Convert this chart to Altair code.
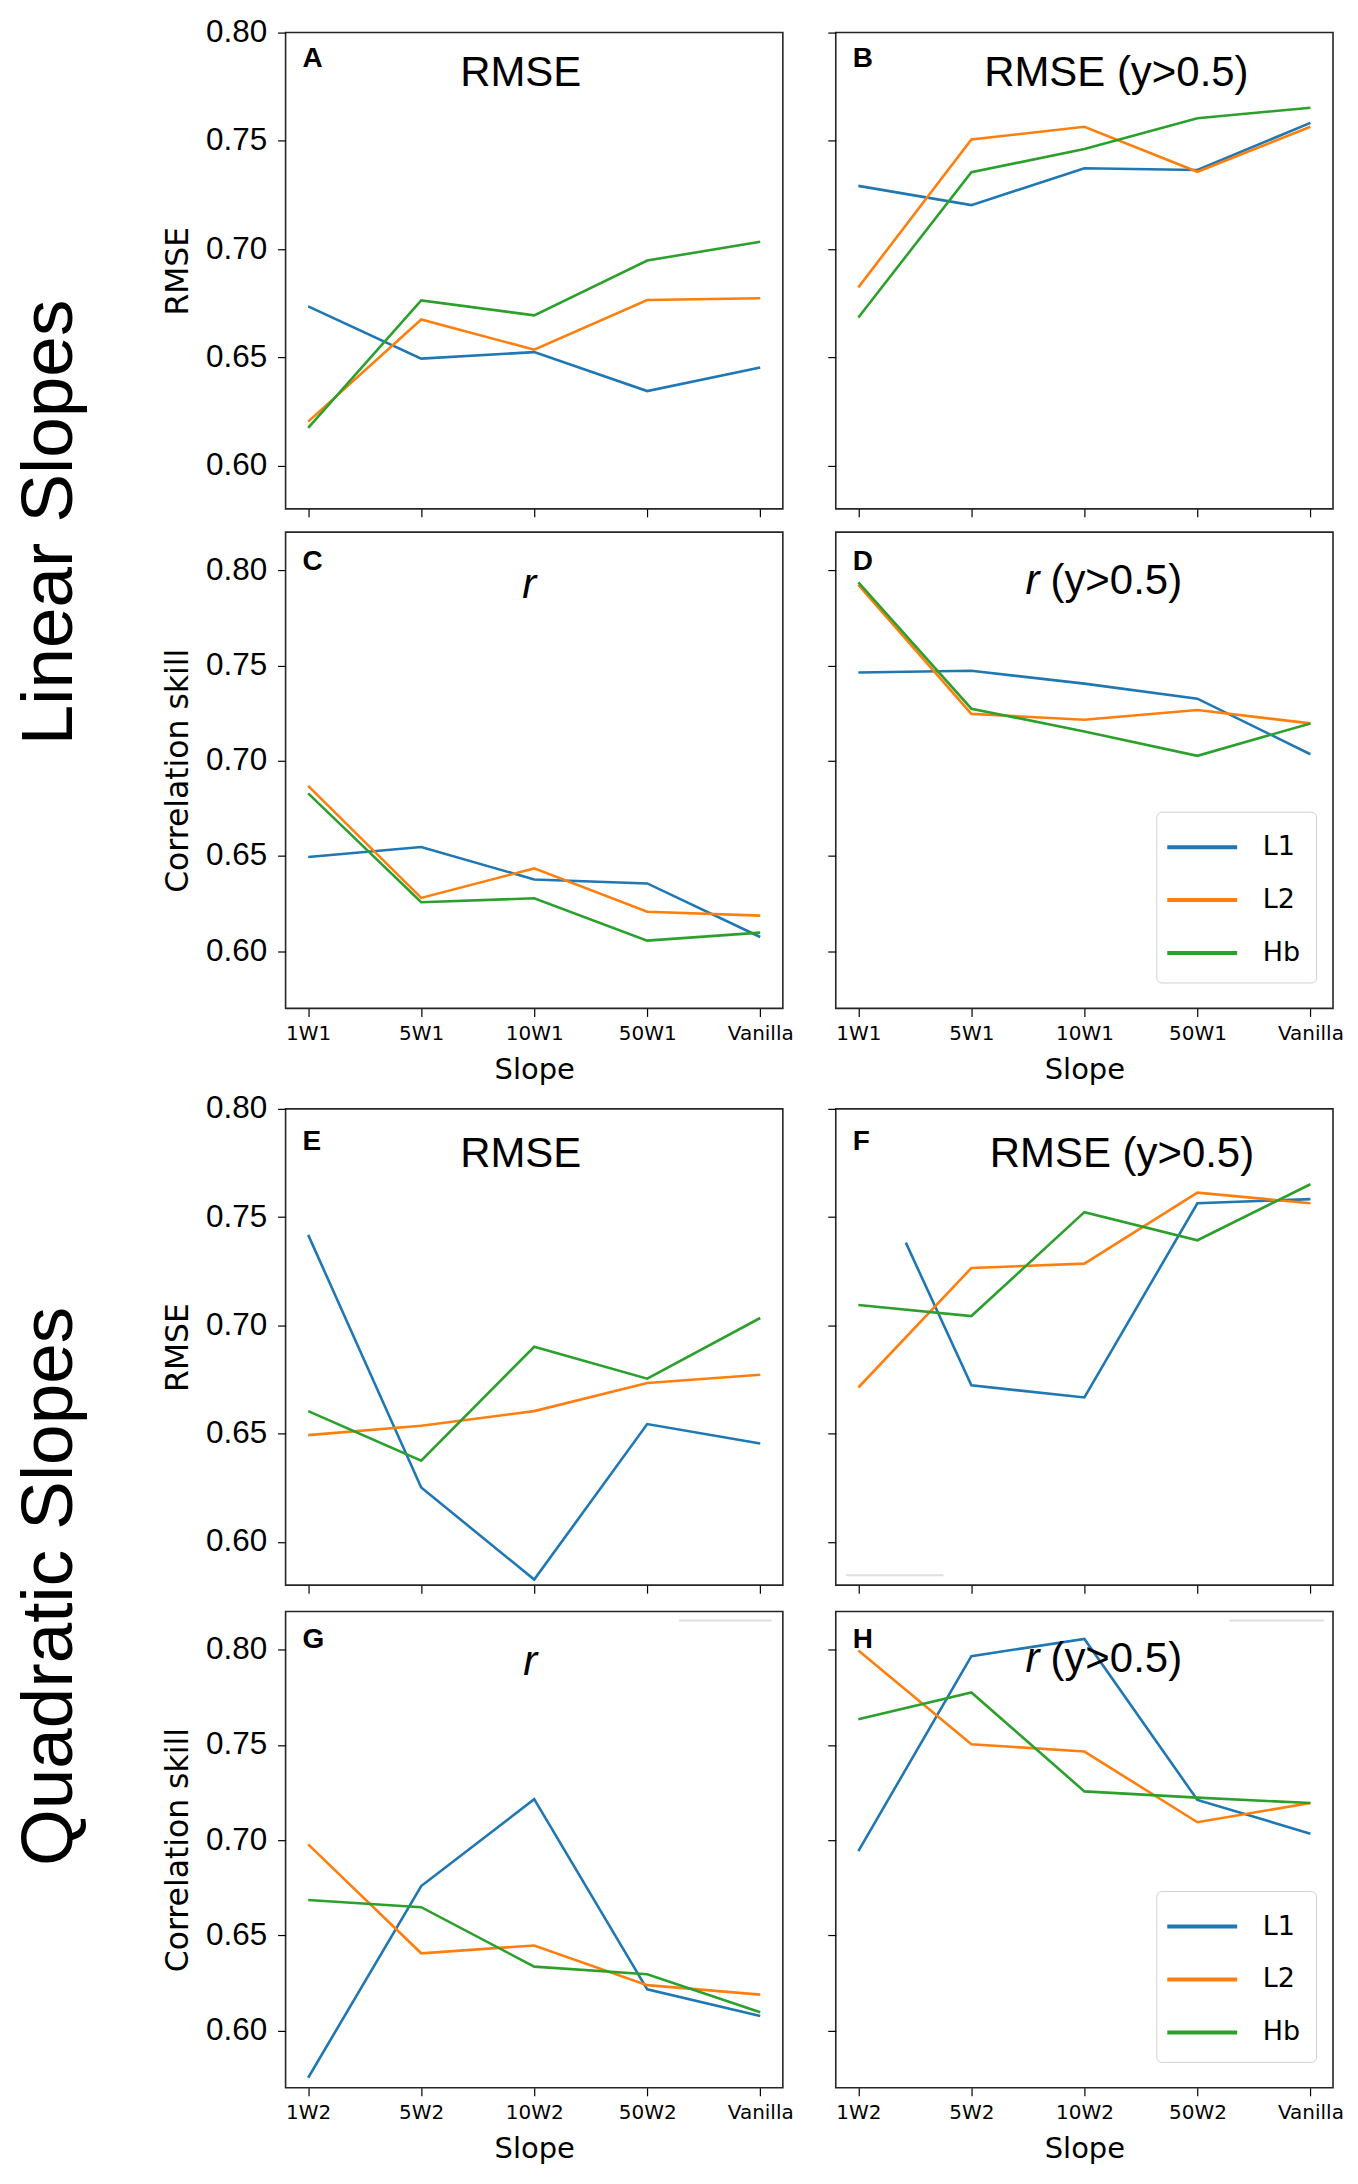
import altair as alt
import pandas as pd

# ---------------- data ----------------
losses = ["L1", "L2", "Hb"]
colors = ["#1f77b4", "#ff7f0e", "#2ca02c"]
slopes_linear = ["1W1", "5W1", "10W1", "50W1", "Vanilla"]
slopes_quad = ["1W2", "5W2", "10W2", "50W2", "Vanilla"]
positions = [0, 1, 2, 3, 4]
y_ticks = [0.60, 0.65, 0.70, 0.75, 0.80]

# A: RMSE (linear slopes)
A_L1 = [0.6735, 0.6494, 0.6524, 0.6344, 0.6453]
A_L2 = [0.6203, 0.6675, 0.6535, 0.6765, 0.6773]
A_Hb = [0.6174, 0.6763, 0.6694, 0.6947, 0.7034]
# B: RMSE (y>0.5)
B_L1 = [0.7292, 0.7203, 0.7373, 0.7365, 0.7583]
B_L2 = [0.6823, 0.7506, 0.7565, 0.7357, 0.7565]
B_Hb = [0.6684, 0.7355, 0.7462, 0.7604, 0.7653]
# C: r
C_L1 = [0.6495, 0.6547, 0.6377, 0.6356, 0.6075]
C_L2 = [0.6868, 0.6280, 0.6435, 0.6207, 0.6187]
C_Hb = [0.6829, 0.6257, 0.6278, 0.6056, 0.6098]
# D: r (y>0.5)
D_L1 = [0.7463, 0.7472, 0.7405, 0.7326, 0.7034]
D_L2 = [0.7923, 0.7246, 0.7215, 0.7266, 0.7196]
D_Hb = [0.7936, 0.7273, 0.7154, 0.7026, 0.7196]
# E: RMSE (quadratic slopes)
E_L1 = [0.7418, 0.6251, 0.5826, 0.6544, 0.6454]
E_L2 = [0.6493, 0.6536, 0.6604, 0.6734, 0.6772]
E_Hb = [0.6604, 0.6375, 0.6901, 0.6754, 0.7034]
# F: RMSE (y>0.5)  (L1 line starts part-way between 1W2 and 5W2)
F_L1 = [0.7382, 0.6723, 0.6667, 0.7564, 0.7583]
F_L1_pos = [0.42, 1, 2, 3, 4]
F_L2 = [0.6713, 0.7265, 0.7285, 0.7613, 0.7564]
F_Hb = [0.7094, 0.7043, 0.7523, 0.7393, 0.7652]
# G: r
G_L1 = [0.5753, 0.6759, 0.7215, 0.6217, 0.6077]
G_L2 = [0.6978, 0.6406, 0.6447, 0.6239, 0.6189]
G_Hb = [0.6686, 0.6648, 0.6336, 0.6296, 0.6097]
# H: r (y>0.5)
H_L1 = [0.6942, 0.7966, 0.8056, 0.7211, 0.7034]
H_L2 = [0.7996, 0.7503, 0.7465, 0.7094, 0.7195]
H_Hb = [0.7634, 0.7775, 0.7256, 0.7223, 0.7195]

# ---------------- layout / style ----------------
W, H = 498, 477
SANS = "Liberation Sans"
MPL = "DejaVu Sans"


def make_df(l1, l2, hb, l1_pos=None):
    rows = []
    for name, vals, pos in (("L1", l1, l1_pos or positions),
                            ("L2", l2, positions),
                            ("Hb", hb, positions)):
        for p, v in zip(pos, vals):
            rows.append({"pos": p, "value": v, "loss": name})
    return pd.DataFrame(rows)


def text(t, x, y, size, align="center", style="normal", weight="normal", font=SANS):
    return alt.Chart(alt.Data(values=[{}])).mark_text(
        text=t, align=align, baseline="alphabetic", font=font, fontSize=size,
        fontStyle=style, fontWeight=weight, color="black"
    ).encode(x=alt.value(x), y=alt.value(y))


def faint_edge(x1, x2, y):
    # faint remnant of an old legend frame edge visible in the original figure
    return alt.Chart(alt.Data(values=[{}])).mark_rule(
        color="#dedede", strokeWidth=2, strokeCap="round"
    ).encode(x=alt.value(x1), x2=alt.value(x2), y=alt.value(y))


def panel(df, slopes, ydom, ytitle, left, bottom, legend, letter, letter_y, titles, extras=()):
    label_expr = "[" + ",".join("'%s'" % s for s in slopes) + "][datum.value]"
    xkw = dict(values=positions, tickSize=8, tickColor="black", tickWidth=1.2,
               domain=False, grid=False, labelFlush=False)
    if bottom:
        xkw.update(labelExpr=label_expr, labelFont=MPL, labelFontSize=20,
                   labelColor="black", labelPadding=7, title="Slope",
                   titleFont=MPL, titleFontSize=29, titleFontWeight="normal",
                   titleColor="black", titlePadding=12)
    else:
        xkw.update(labels=False, title=None)
    ykw = dict(values=y_ticks, tickSize=8, tickColor="black", tickWidth=1.2,
               domain=False, grid=False, labelFlush=False)
    if left:
        ykw.update(format=".2f", labelFont=SANS, labelFontSize=31.5, labelColor="black",
                   labelPadding=11, title=ytitle, titleFont=MPL, titleFontSize=31.5,
                   titleFontWeight="normal", titleColor="black", titlePadding=11)
    else:
        ykw.update(labels=False, title=None)

    if legend:
        leg = alt.Legend(orient="none", legendX=321, legendY=280, title=None,
                         symbolType="M-2,0L2,0", symbolSize=1225, symbolStrokeWidth=4,
                         symbolOffset=10.5,
                         labelFont=MPL, labelFontSize=27, labelColor="black",
                         labelOffset=41, rowPadding=20, padding=16,
                         strokeColor="#d0d0d0", fillColor="rgba(255,255,255,0.85)",
                         cornerRadius=5)
        color = alt.Color("loss:N", scale=alt.Scale(domain=losses, range=colors), legend=leg)
    else:
        color = alt.Color("loss:N", scale=alt.Scale(domain=losses, range=colors), legend=None)

    lines = alt.Chart(df).mark_line(strokeWidth=2.6, clip=True).encode(
        x=alt.X("pos:Q", scale=alt.Scale(domain=[-0.2, 4.2], nice=False, zero=False),
                axis=alt.Axis(**xkw)),
        y=alt.Y("value:Q", scale=alt.Scale(domain=ydom, nice=False, zero=False),
                axis=alt.Axis(**ykw)),
        color=color,
    )
    layers = list(extras) + [lines, text(letter, 17, letter_y, 28, align="left", weight="bold")]
    layers += titles
    return alt.layer(*layers).properties(width=W, height=H)


def rmse_title(cx, by):
    return [text("RMSE", cx, by, 42)]


def rmse_hi_title(cx, by):
    return [text("RMSE (y>0.5)", cx, by, 42)]


def r_title(cx, by):
    return [text("r", cx, by, 42, style="italic")]


def r_hi_title(by):
    return [text("r", 190, by, 42, align="left", style="italic"),
            text("(y>0.5)", 215, by, 42, align="left")]


dom_rmse = [0.58, 0.80]
dom_r = [0.57, 0.82]

pA = panel(make_df(A_L1, A_L2, A_Hb), slopes_linear, dom_rmse, "RMSE", True, False, False,
           "A", 34.5, rmse_title(235.5, 53.4))
pB = panel(make_df(B_L1, B_L2, B_Hb), slopes_linear, dom_rmse, "", False, False, False,
           "B", 34.5, rmse_hi_title(281, 53.4))
pC = panel(make_df(C_L1, C_L2, C_Hb), slopes_linear, dom_r, "Correlation skill", True, True, False,
           "C", 38, r_title(244, 66))
pD = panel(make_df(D_L1, D_L2, D_Hb), slopes_linear, dom_r, "", False, True, True,
           "D", 38, r_hi_title(62))
pE = panel(make_df(E_L1, E_L2, E_Hb), slopes_quad, dom_rmse, "RMSE", True, False, False,
           "E", 41, rmse_title(235.5, 57.8))
pF = panel(make_df(F_L1, F_L2, F_Hb, F_L1_pos), slopes_quad, dom_rmse, "", False, False, False,
           "F", 41, rmse_hi_title(286.6, 58), extras=[faint_edge(11, 107, 467)])
pG = panel(make_df(G_L1, G_L2, G_Hb), slopes_quad, dom_r, "Correlation skill", True, True, False,
           "G", 37, r_title(245, 64), extras=[faint_edge(395, 486, 9)])
pH = panel(make_df(H_L1, H_L2, H_Hb), slopes_quad, dom_r, "", False, True, True,
           "H", 37, r_hi_title(60.4), extras=[faint_edge(395, 488, 9)])


def row(a, b):
    return alt.hconcat(a, b, spacing=53, bounds="flush").resolve_legend(color="independent")


def half(r1, r2, gap, label, dx):
    return alt.vconcat(
        r1, r2, spacing=gap,
        title=alt.TitleParams(label, orient="left", anchor="middle", font=SANS,
                              fontSize=73, fontWeight="normal", color="black",
                              offset=75, dx=dx),
    ).resolve_legend(color="independent")


top_half = half(row(pA, pB), row(pC, pD), 12.3, "Linear Slopes", 28)
bot_half = half(row(pE, pF), row(pG, pH), 15.4, "Quadratic Slopes", 42)

chart = alt.vconcat(top_half, bot_half, spacing=5.9).resolve_legend(
    color="independent"
).properties(
    padding={"left": 5, "top": 6, "right": 5, "bottom": 5},
    background="white",
).configure_view(stroke="#262626", strokeWidth=1.6)

chart.save("out.html", embed_options={"renderer": "svg", "actions": False})
